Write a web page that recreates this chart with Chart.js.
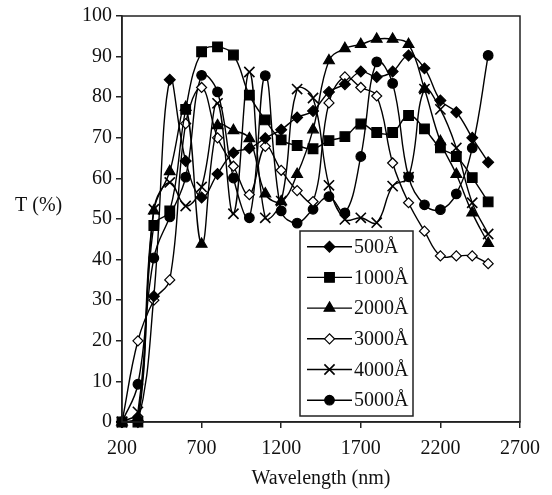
<!DOCTYPE html>
<html>
<head>
<meta charset="utf-8">
<script src="https://cdn.jsdelivr.net/npm/chart.js@4/dist/chart.umd.min.js"></script>
<style>
html,body{margin:0;padding:0;background:#fff;}
#wrap{position:relative;width:552px;height:495px;}
</style>
</head>
<body>
<div id="wrap"><canvas id="c" width="552" height="495"></canvas></div>
<script>
const wavelengths = [200,300,400,500,600,700,800,900,1000,1100,1200,1300,1400,1500,1600,1700,1800,1900,2000,2100,2200,2300,2400,2500];
const t500  = [0,0,31,84.3,64.3,55.3,61.1,66.3,67.4,69.9,72,75,76.6,81.3,83.2,86.3,85,86.3,90.3,87.1,79.2,76.3,70,64];
const t1000 = [0,0,48.4,52,77,91.2,92.4,90.4,80.5,74.4,69.5,68.1,67.3,69.3,70.3,73.4,71.3,71.3,75.5,72.2,67.5,65.4,60.2,54.2];
const t2000 = [0,1,52,61.7,77.5,43.8,73,71.8,69.8,56.2,54.3,61,72,89,92,93,94.3,94.3,93,82,69.1,61,51.5,44];
const t3000 = [0,20,30,35,73.5,82.4,70,63,56,67.9,62,57,54.3,78.6,85,82.4,80.3,63.8,54,47,40.9,40.9,40.9,39];
const t4000 = [0,2.5,52.4,59,53.2,57.9,78.5,51.3,86.2,50.3,54.4,82,79.8,58.3,49.9,50.3,49.1,58.1,60.3,82,77,67.5,54,46.3];
const t5000 = [0,9.3,40.4,50.5,60.3,85.4,81.3,60.1,50.3,85.3,52,49,52.4,55.5,51.5,65.4,88.7,83.4,60.4,53.5,52.3,56.2,67.5,90.3];
const seriesLabels = ['500Å','1000Å','2000Å','3000Å','4000Å','5000Å'];
const xTicks = [200,700,1200,1700,2200,2700];
const yTitle = 'T (%)';
const xTitle = 'Wavelength (nm)';

const FONT = '"Liberation Serif","Times New Roman",serif';
const styles = [
  {pointStyle:'rectRot', radius:5.4, fill:'#000'},
  {pointStyle:'rect', radius:6.8, fill:'#000'},
  {pointStyle:'triangle', radius:6.2, fill:'#000'},
  {pointStyle:'rectRot', radius:5, fill:'#fff'},
  {pointStyle:'crossRot', radius:7.2, fill:'#000'},
  {pointStyle:'circle', radius:4.8, fill:'#000'}
];
const allSeries = [t500,t1000,t2000,t3000,t4000,t5000];

const datasets = allSeries.map((vals,i)=>({
  label: seriesLabels[i],
  data: wavelengths.map((w,j)=>({x:w,y:vals[j]})),
  borderColor:'#000',
  borderWidth:1.4,
  tension:0.4,
  fill:false,
  clip:false,
  pointStyle: styles[i].pointStyle,
  pointRadius: styles[i].radius,
  pointBackgroundColor: styles[i].fill,
  pointBorderColor:'#000',
  pointBorderWidth: styles[i].pointStyle==='crossRot'?1.6:1.2,
  pointHoverRadius: styles[i].radius
}));

const decor = {
  id:'decor',
  afterDraw(chart){
    const ctx = chart.ctx, a = chart.chartArea;
    ctx.save();
    ctx.strokeStyle='#222';
    ctx.lineWidth=1.5;
    ctx.strokeRect(a.left, a.top, a.right-a.left, a.bottom-a.top);
    ctx.fillStyle='#111';
    ctx.font='20px '+FONT;
    ctx.textBaseline='middle';
    ctx.textAlign='left';
    ctx.fillText(yTitle, 15, 206);
    ctx.textAlign='center';
    ctx.fillText(xTitle, 321, 479);
    const lx=300, ly=231, lw=113, lh=185;
    ctx.fillStyle='#fff';
    ctx.fillRect(lx,ly,lw,lh);
    ctx.strokeStyle='#222';
    ctx.lineWidth=1.5;
    ctx.strokeRect(lx,ly,lw,lh);
    chart.data.datasets.forEach((ds,i)=>{
      const y = 246.7 + i*30.7;
      ctx.strokeStyle='#000';
      ctx.lineWidth=1.4;
      ctx.beginPath(); ctx.moveTo(307,y); ctx.lineTo(352,y); ctx.stroke();
      const meta = chart.getDatasetMeta(i);
      const el = meta.data[0];
      if (el) {
        const ox = el.x, oy = el.y;
        el.x = 329.5; el.y = y;
        el.draw(ctx, {left:0,top:0,right:552,bottom:495});
        el.x = ox; el.y = oy;
      }
      ctx.fillStyle='#111';
      ctx.font='20px '+FONT;
      ctx.textAlign='left';
      ctx.textBaseline='middle';
      ctx.fillText(ds.label, 354, y+1);
    });
    ctx.restore();
  }
};

new Chart(document.getElementById('c'), {
  type:'line',
  data:{datasets},
  options:{
    responsive:false,
    animation:false,
    events:[],
    layout:{padding:{top:14,right:32,left:0,bottom:0}},
    plugins:{legend:{display:false},tooltip:{enabled:false}},
    scales:{
      x:{
        type:'linear', min:200, max:2700,
        afterBuildTicks(s){ s.ticks = xTicks.map(v=>({value:v})); },
        afterFit(s){ s.height = 73; },
        grid:{drawOnChartArea:false, tickLength:6, color:'#222', lineWidth:1.5},
        border:{color:'#222', width:1.5},
        ticks:{color:'#111', font:{family:FONT,size:20}, padding:9, maxRotation:0, autoSkip:false,
               callback:(v)=>String(v)}
      },
      y:{
        min:0, max:100,
        ticks:{stepSize:10, color:'#111', font:{family:FONT,size:20}, padding:4, callback:(v)=>String(v)},
        afterFit(s){ s.width = 122; },
        grid:{drawOnChartArea:false, tickLength:6, color:'#222', lineWidth:1.5},
        border:{color:'#222', width:1.5}
      }
    }
  },
  plugins:[decor]
});
</script>
</body>
</html>
